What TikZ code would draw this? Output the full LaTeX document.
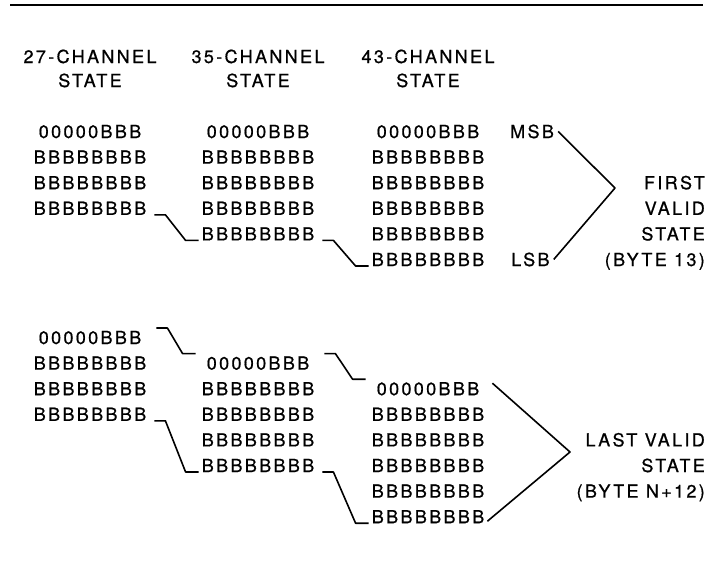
\documentclass[tikz,border=0pt]{standalone}
\usepackage{fontspec}
\setmainfont{TeX Gyre Heros}[LetterSpace=13, FakeBold=0.8]
\begin{document}
\begin{tikzpicture}[
        x=1pt, y=-1pt,
        every node/.style={inner sep=0pt, font=\fontsize{18}{21}\selectfont},
        word/.style={anchor=base},
        tag/.style={anchor=base east},
        side/.style={anchor=base west},
        link/.style={draw, line width=1.6pt, line join=round},
        border/.style={draw, line width=1.8pt},
    ]
    \useasboundingbox (0,0) rectangle (709,571);
    \draw[border] (10,5) -- (703,5);
    % column heads
    \foreach \n/\x in {27/90, 35/258, 43/428} {
        \node[word] (head\n) at (\x,63) {\n-CHANNEL};
        \node[word] (state\n) at (\x,87) {STATE};
    }
    % first valid state
    \foreach \c/\x/\m in {a/90/4, b/258/5, c/428/6} {
        \node[word] (\c1) at (\x,138) {00000BBB};
        \foreach \r in {2,...,\m}
            \node[word] (\c\r) at (\x,{138+25.6*(\r-1)}) {BBBBBBBB};
    }
    % last valid state
    \foreach \c/\x/\s/\m in {d/90/0/4, e/258/1/5, f/428/2/6} {
        \node[word] (\c1) at (\x,{344+25.6*\s}) {00000BBB};
        \foreach \r in {2,...,\m}
            \node[word] (\c\r) at (\x,{344+25.6*(\s+\r-1)}) {BBBBBBBB};
    }
    \node[side] (msb) at (510,138) {MSB};
    \node[side] (lsb) at (511,266) {LSB};
    \node[tag] (first) at (705,189.2) {FIRST};
    \node[tag] (valid) at (705,214.8) {VALID};
    \node[tag] (fstate) at (705,240.4) {STATE};
    \node[tag] (byte13) at (705,266) {(BYTE 13)};
    \node[tag] (last) at (705,446.4) {LAST VALID};
    \node[tag] (lstate) at (705,472) {STATE};
    \node[tag] (byten) at (705,497.6) {(BYTE N+12)};
    \coordinate (tip1) at (615,188);
    \coordinate (tip2) at (570,452);
    % steps between columns
    \foreach \p/\q in {a4/b5, b5/c6, d4/e5, e5/f6}
        \draw[link] ([xshift=8pt]\p.base east) -- ++(11,0)
            -- ([xshift=-16pt]\q.base west) -- ([xshift=-3pt]\q.base west);
    \foreach \p/\q in {d1/e1, e1/f1}
        \draw[link] ([xshift=15pt,yshift=16pt]\p.base east) -- ++(11,0)
            -- ([xshift=-24pt,yshift=16pt]\q.base west) -- ([xshift=-11pt,yshift=16pt]\q.base west);
    % brackets
    \draw[link] ([xshift=4pt]msb.east) -- (tip1) -- ([xshift=4pt]lsb.east);
    \draw[link] ([xshift=13pt,yshift=12pt]f1.base east) -- (tip2) -- ([xshift=3pt,yshift=2pt]f6.base east);
\end{tikzpicture}
\end{document}
